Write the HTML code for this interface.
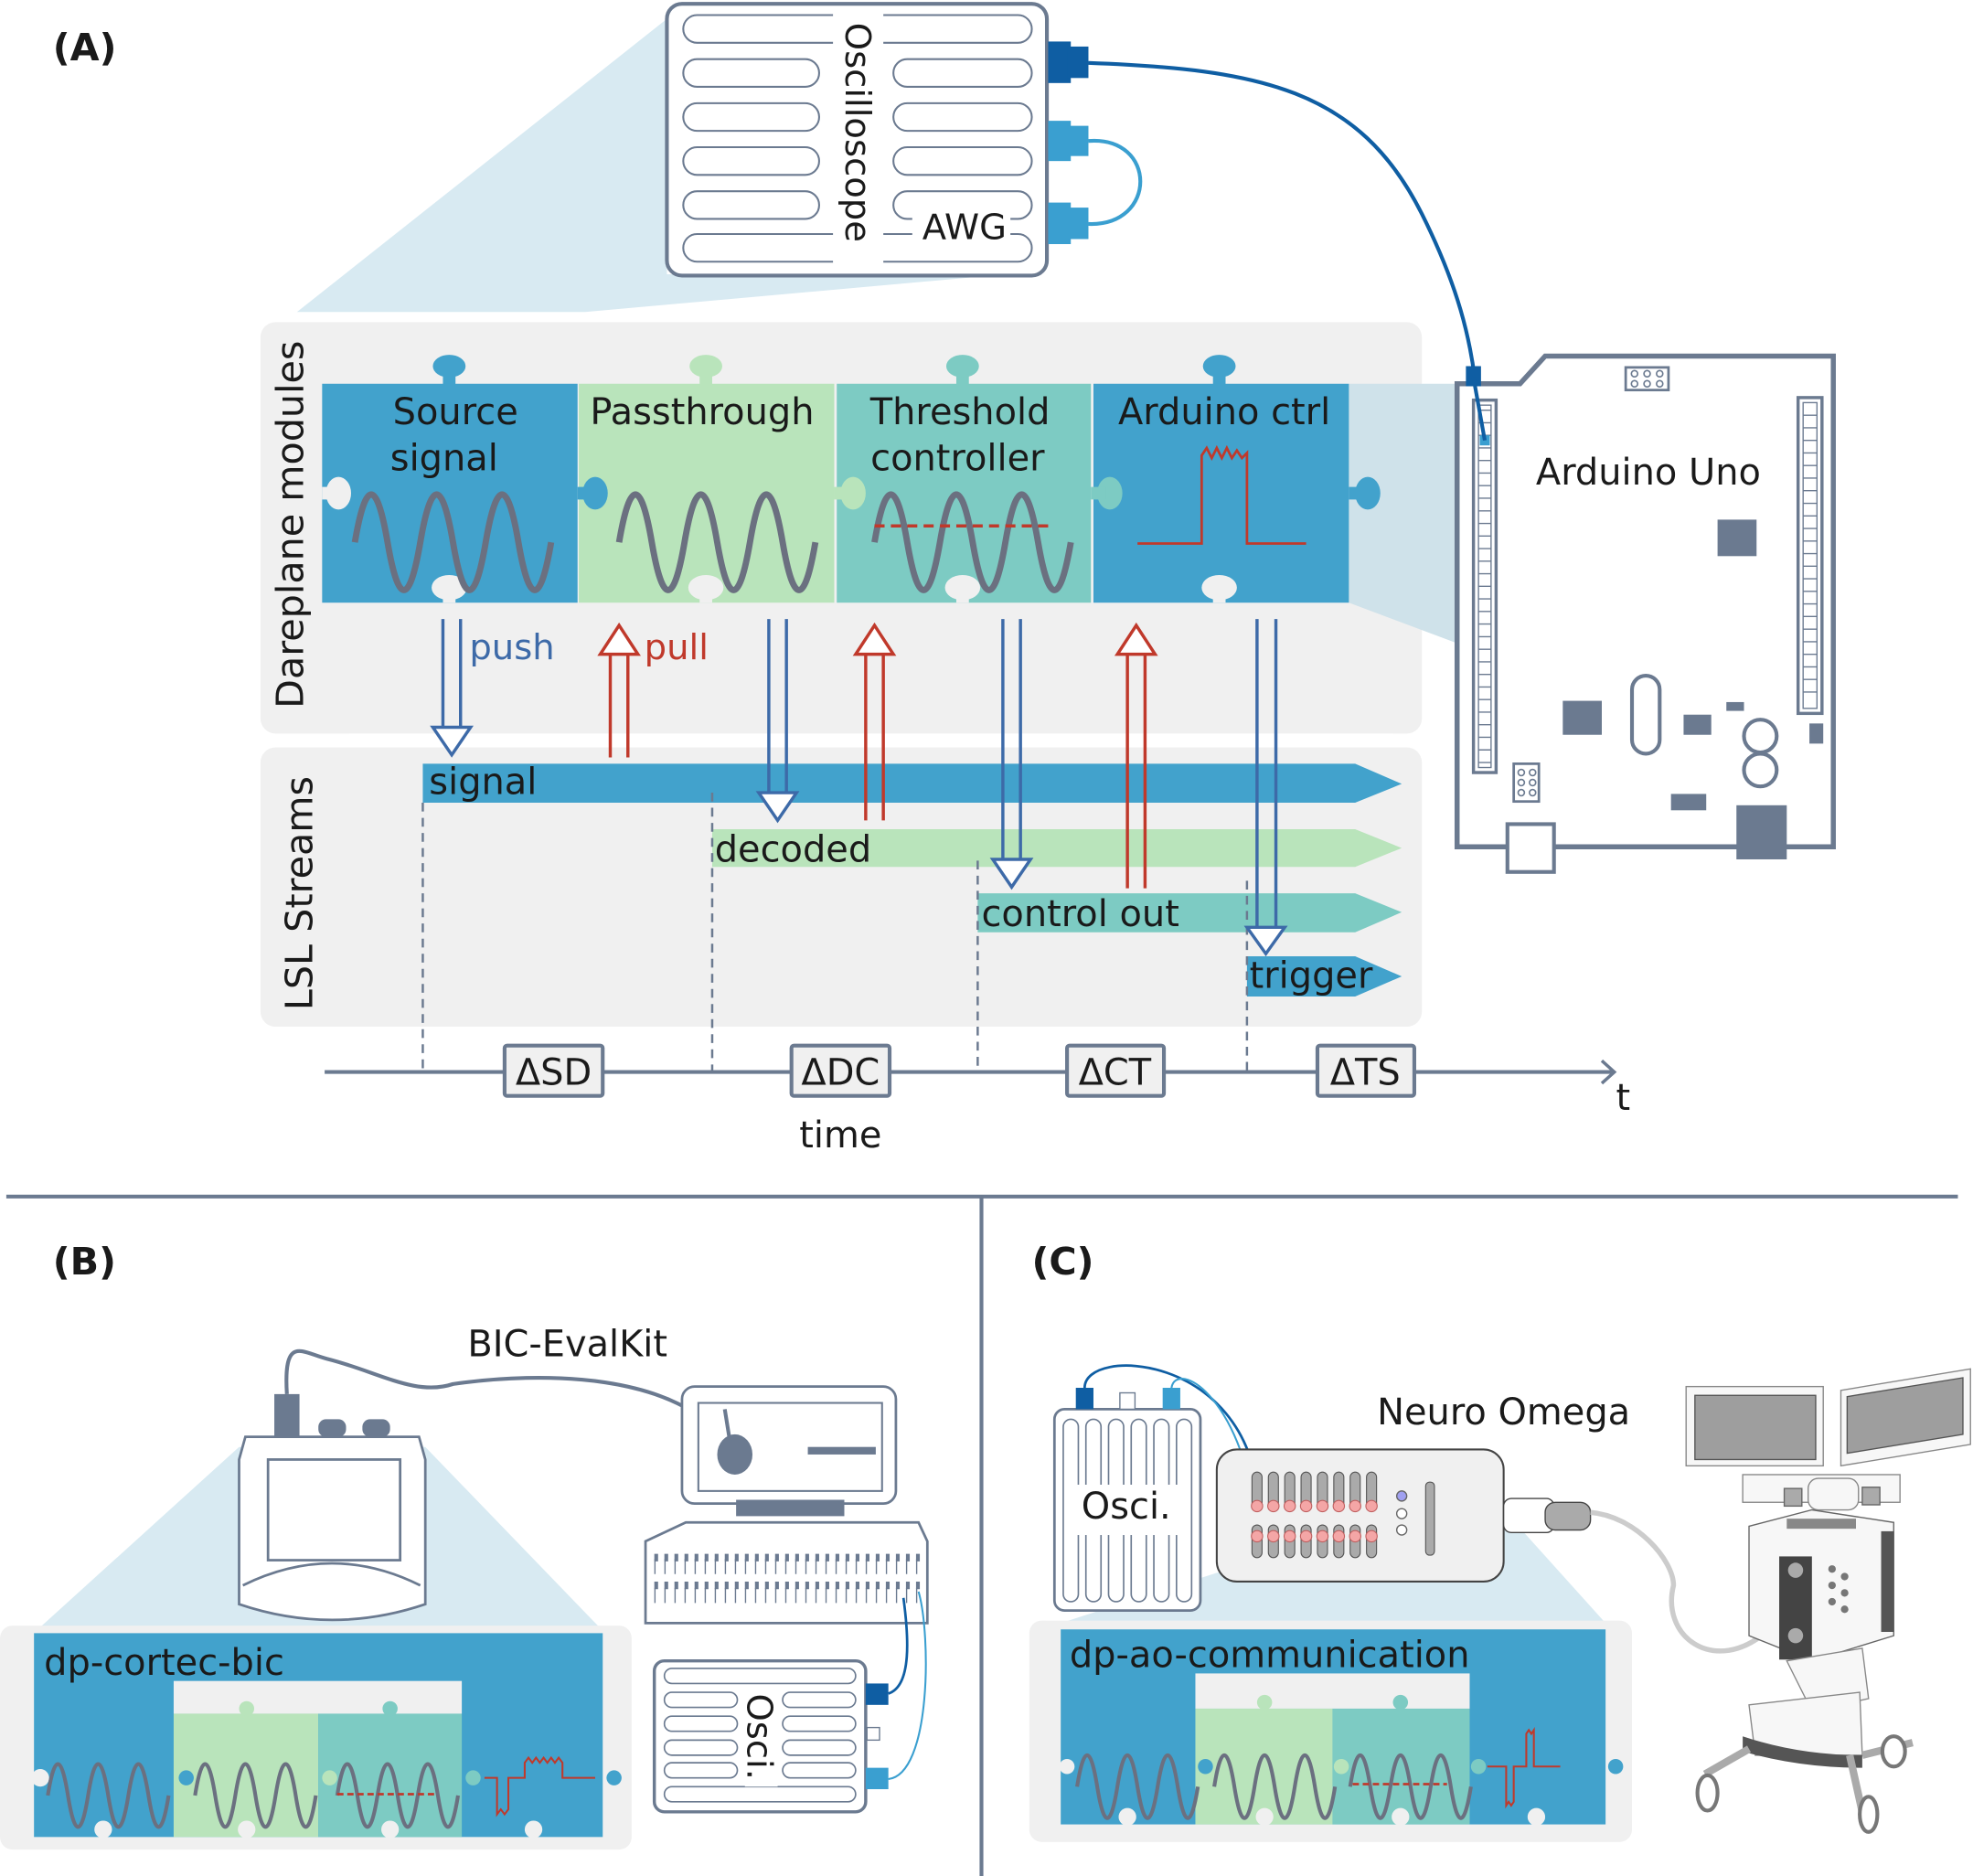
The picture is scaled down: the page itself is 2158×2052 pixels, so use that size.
<!DOCTYPE html>
<html><head><meta charset="utf-8"><style>
html,body{margin:0;padding:0;background:#fff;}
svg{display:block;}
text{font-family:"DejaVu Sans","Liberation Sans",sans-serif;fill:#1a1a1a;}
</style></head><body>
<svg width="2158" height="2052" viewBox="0 0 1568 1491" xmlns="http://www.w3.org/2000/svg">
<defs>
<path id="sine" d="M0,0 q13,-76 26,0 t26,0 t26,0 t26,0 t26,0 t26,0" fill="none" stroke="#6b7080" stroke-width="5"/>
<path id="sines" d="M0,0 q8,-50 16,0 t16,0 t16,0 t16,0 t16,0 t16,0" fill="none" stroke="#6b7080" stroke-width="3"/>
</defs>
<rect width="1568" height="1491" fill="#fff"/>

<!-- ===== Panel A ===== -->
<text x="42" y="48" font-size="30" font-weight="bold">(A)</text>
<polygon points="530,15 236,248 465,248 800,218 530,218" fill="#d8eaf2"/>
<rect x="530" y="3" width="302" height="216" rx="12" fill="#fff" stroke="#6b7a90" stroke-width="3"/>
<g fill="none" stroke="#6b7a90" stroke-width="1.5">
<rect x="543" y="12" width="277" height="22" rx="11"/>
<rect x="543" y="47" width="108" height="22" rx="11"/><rect x="543" y="82" width="108" height="22" rx="11"/>
<rect x="543" y="117" width="108" height="22" rx="11"/><rect x="543" y="152" width="108" height="22" rx="11"/>
<rect x="710" y="47" width="110" height="22" rx="11"/><rect x="710" y="82" width="110" height="22" rx="11"/>
<rect x="710" y="117" width="110" height="22" rx="11"/><rect x="710" y="152" width="110" height="22" rx="11"/>
<rect x="543" y="186" width="277" height="22" rx="11"/>
</g>
<rect x="662" y="10" width="40" height="200" fill="#fff"/>
<rect x="725" y="164" width="78" height="30" fill="#fff"/>
<text transform="translate(672,18) rotate(90)" font-size="28">Oscilloscope</text>
<text x="733" y="190" font-size="28">AWG</text>
<rect x="833" y="33" width="18" height="33" fill="#0f5ea3"/><rect x="848" y="37" width="17" height="25" fill="#0f5ea3"/>
<rect x="833" y="96" width="18" height="32" fill="#3a9fd0"/><rect x="848" y="100" width="17" height="24" fill="#3a9fd0"/>
<rect x="833" y="161" width="18" height="33" fill="#3a9fd0"/><rect x="848" y="165" width="17" height="25" fill="#3a9fd0"/>
<path d="M865,112 C920,108 920,180 865,178" fill="none" stroke="#3a9fd0" stroke-width="3"/>
<path d="M865,50 C1000,55 1080,70 1130,170 C1160,230 1168,270 1172,300 L1180,350" fill="none" stroke="#0f5ea3" stroke-width="3"/>

<!-- Dareplane panel -->
<rect x="207" y="256" width="923" height="327" rx="12" fill="#f0f0f0"/>
<text transform="translate(241,563) rotate(-90)" font-size="30">Dareplane modules</text>
<polygon points="1072,305 1160,305 1160,512 1072,479" fill="#cfe2ea"/>
<rect x="256" y="305" width="203" height="174" fill="#42a2cc"/>
<rect x="460" y="305" width="203" height="174" fill="#b9e4bb"/>
<rect x="665" y="305" width="202" height="174" fill="#7dcbc3"/>
<rect x="869" y="305" width="203" height="174" fill="#42a2cc"/>
<g><rect x="352" y="292" width="10" height="14" fill="#42a2cc"/><ellipse cx="357" cy="291" rx="13" ry="9" fill="#42a2cc"/>
<rect x="556" y="292" width="10" height="14" fill="#b9e4bb"/><ellipse cx="561" cy="291" rx="13" ry="9" fill="#b9e4bb"/>
<rect x="760" y="292" width="10" height="14" fill="#7dcbc3"/><ellipse cx="765" cy="291" rx="13" ry="9" fill="#7dcbc3"/>
<rect x="964" y="292" width="10" height="14" fill="#42a2cc"/><ellipse cx="969" cy="291" rx="13" ry="9" fill="#42a2cc"/></g>
<g fill="#f0f0f0"><ellipse cx="357" cy="467" rx="14" ry="10"/><rect x="352" y="467" width="10" height="12"/>
<ellipse cx="561" cy="467" rx="14" ry="10"/><rect x="556" y="467" width="10" height="12"/>
<ellipse cx="765" cy="467" rx="14" ry="10"/><rect x="760" y="467" width="10" height="12"/>
<ellipse cx="969" cy="467" rx="14" ry="10"/><rect x="964" y="467" width="10" height="12"/></g>
<ellipse cx="269" cy="392" rx="10" ry="13" fill="#f0f0f0"/><rect x="256" y="387" width="12" height="10" fill="#f0f0f0"/>
<ellipse cx="473" cy="392" rx="10" ry="13" fill="#42a2cc"/><rect x="459" y="387" width="12" height="10" fill="#42a2cc"/>
<ellipse cx="678" cy="392" rx="10" ry="13" fill="#b9e4bb"/><rect x="663" y="387" width="12" height="10" fill="#b9e4bb"/>
<ellipse cx="882" cy="392" rx="10" ry="13" fill="#7dcbc3"/><rect x="867" y="387" width="12" height="10" fill="#7dcbc3"/>
<ellipse cx="1087" cy="392" rx="10" ry="13" fill="#42a2cc"/><rect x="1072" y="387" width="12" height="10" fill="#42a2cc"/>
<text x="362" y="337" font-size="29" text-anchor="middle">Source</text>
<text x="353" y="374" font-size="29" text-anchor="middle">signal</text>
<text x="558" y="337" font-size="29" text-anchor="middle">Passthrough</text>
<text x="763" y="337" font-size="29" text-anchor="middle">Threshold</text>
<text x="761" y="374" font-size="29" text-anchor="middle">controller</text>
<text x="973" y="337" font-size="29" text-anchor="middle">Arduino ctrl</text>
<use href="#sine" x="282" y="431"/>
<use href="#sine" x="492" y="431"/>
<use href="#sine" x="695" y="431"/>
<line x1="695" y1="418" x2="835" y2="418" stroke="#c0392b" stroke-width="2.5" stroke-dasharray="8,5"/>
<path d="M904,432 H955 V362 l4,-6 4,8 4,-8 4,8 4,-8 4,8 4,-6 4,6 4,-4 V432 H1038" fill="none" stroke="#c0392b" stroke-width="2"/>

<!-- LSL panel -->
<rect x="207" y="594" width="923" height="222" rx="12" fill="#f0f0f0"/>
<text transform="translate(248,803) rotate(-90)" font-size="30">LSL Streams</text>
<polygon points="336,607 1077,607 1114,623 1077,638 336,638" fill="#42a2cc"/>
<polygon points="566,659 1077,659 1114,674 1077,689 566,689" fill="#b9e4bb"/>
<polygon points="777,710 1077,710 1114,725 1077,741 777,741" fill="#7dcbc3"/>
<polygon points="991,760 1077,760 1114,776 1077,792 991,792" fill="#42a2cc"/>
<text x="341" y="631" font-size="29">signal</text>
<text x="568" y="685" font-size="29">decoded</text>
<text x="780" y="736" font-size="29">control out</text>
<text x="993" y="785" font-size="29">trigger</text>
<g stroke="#6b7a90" stroke-width="1.8" stroke-dasharray="7,5">
<line x1="336" y1="638" x2="336" y2="852"/><line x1="566" y1="630" x2="566" y2="852"/>
<line x1="777" y1="684" x2="777" y2="852"/><line x1="991" y1="700" x2="991" y2="852"/></g>

<!-- arrows (on top) -->
<g fill="none" stroke-width="2.5">
<g stroke="#3d6aa8"><path d="M352,492 V578 M366,492 V578"/><path d="M344,578 H374 L359,600 Z" fill="#fff"/></g>
<g stroke="#c0392b"><path d="M485,602 V520 M499,602 V520"/><path d="M477,520 H507 L492,497 Z" fill="#fff"/></g>
<g stroke="#3d6aa8"><path d="M611,492 V630 M625,492 V630"/><path d="M603,630 H633 L618,652 Z" fill="#fff"/></g>
<g stroke="#c0392b"><path d="M688,652 V520 M702,652 V520"/><path d="M680,520 H710 L695,497 Z" fill="#fff"/></g>
<g stroke="#3d6aa8"><path d="M797,492 V683 M811,492 V683"/><path d="M789,683 H819 L804,705 Z" fill="#fff"/></g>
<g stroke="#c0392b"><path d="M896,706 V520 M910,706 V520"/><path d="M888,520 H918 L903,497 Z" fill="#fff"/></g>
<g stroke="#3d6aa8"><path d="M999,492 V737 M1014,492 V737"/><path d="M991,737 H1021 L1006,758 Z" fill="#fff"/></g>
</g>
<text x="373" y="524" font-size="28" style="fill:#3d6aa8">push</text>
<text x="512" y="524" font-size="28" style="fill:#c0392b">pull</text>

<line x1="258" y1="852" x2="1282" y2="852" stroke="#6b7a90" stroke-width="3"/>
<path d="M1273,843 L1283,852 L1273,861" fill="none" stroke="#6b7a90" stroke-width="2.5"/>
<g fill="#f0f0f0" stroke="#6b7a90" stroke-width="3">
<rect x="401" y="831" width="78" height="40" rx="2"/><rect x="629" y="831" width="78" height="40" rx="2"/>
<rect x="848" y="831" width="77" height="40" rx="2"/><rect x="1047" y="831" width="77" height="40" rx="2"/></g>
<g font-size="29" text-anchor="middle">
<text x="440" y="862">ΔSD</text><text x="668" y="862">ΔDC</text><text x="886" y="862">ΔCT</text><text x="1085" y="862">ΔTS</text></g>
<text x="1290" y="882" font-size="29" text-anchor="middle">t</text>
<text x="668" y="912" font-size="29" text-anchor="middle">time</text>

<!-- Arduino Uno -->
<polygon points="1158,305 1208,305 1228,283 1457,283 1457,673 1158,673" fill="#fff" stroke="#6b7a90" stroke-width="4"/>
<rect x="1171" y="318" width="18" height="296" fill="#fff" stroke="#6b7a90" stroke-width="2.5"/>
<rect x="1429" y="316" width="19" height="251" fill="#fff" stroke="#6b7a90" stroke-width="2.5"/>
<g fill="none" stroke="#6b7a90" stroke-width="1">
<path d="M1175,326 h10 M1175,336 h10 M1175,346 h10 M1175,356 h10 M1175,366 h10 M1175,376 h10 M1175,386 h10 M1175,396 h10 M1175,406 h10 M1175,416 h10 M1175,426 h10 M1175,436 h10 M1175,446 h10 M1175,456 h10 M1175,466 h10 M1175,476 h10 M1175,486 h10 M1175,496 h10 M1175,506 h10 M1175,516 h10 M1175,526 h10 M1175,536 h10 M1175,546 h10 M1175,556 h10 M1175,566 h10 M1175,576 h10 M1175,586 h10 M1175,596 h10 M1175,606 h10"/>
<rect x="1175" y="322" width="10" height="288"/>
<rect x="1433" y="320" width="11" height="243"/>
<path d="M1433,330 h11 M1433,340 h11 M1433,350 h11 M1433,360 h11 M1433,370 h11 M1433,380 h11 M1433,390 h11 M1433,400 h11 M1433,410 h11 M1433,420 h11 M1433,430 h11 M1433,440 h11 M1433,450 h11 M1433,460 h11 M1433,470 h11 M1433,480 h11 M1433,490 h11 M1433,500 h11 M1433,510 h11 M1433,520 h11 M1433,530 h11 M1433,540 h11 M1433,550 h11"/>
</g>
<rect x="1176" y="346" width="8" height="8" fill="#3a9fd0"/>
<rect x="1165" y="291" width="12" height="16" fill="#0f5ea3"/>
<path d="M1171,300 L1180,350" stroke="#0f5ea3" stroke-width="3"/>
<rect x="1292" y="292" width="34" height="18" fill="#fff" stroke="#6b7a90" stroke-width="2"/>
<g fill="none" stroke="#6b7a90" stroke-width="1.2"><circle cx="1299" cy="297" r="2.5"/><circle cx="1309" cy="297" r="2.5"/><circle cx="1319" cy="297" r="2.5"/><circle cx="1299" cy="305" r="2.5"/><circle cx="1309" cy="305" r="2.5"/><circle cx="1319" cy="305" r="2.5"/>
<circle cx="1209" cy="614" r="2.5"/><circle cx="1218" cy="614" r="2.5"/><circle cx="1209" cy="622" r="2.5"/><circle cx="1218" cy="622" r="2.5"/><circle cx="1209" cy="630" r="2.5"/><circle cx="1218" cy="630" r="2.5"/></g>
<rect x="1203" y="607" width="20" height="30" fill="none" stroke="#6b7a90" stroke-width="2"/>
<text x="1310" y="385" font-size="29" text-anchor="middle">Arduino Uno</text>
<g fill="#6b7a90">
<rect x="1365" y="413" width="31" height="29"/><rect x="1242" y="557" width="31" height="27"/>
<rect x="1338" y="568" width="22" height="16"/><rect x="1372" y="558" width="14" height="7"/>
<rect x="1438" y="575" width="11" height="16"/><rect x="1328" y="631" width="28" height="13"/>
<rect x="1380" y="640" width="40" height="43"/></g>
<rect x="1198" y="655" width="37" height="38" fill="#fff" stroke="#6b7a90" stroke-width="3"/>
<rect x="1297" y="537" width="22" height="62" rx="11" fill="none" stroke="#6b7a90" stroke-width="3"/>
<circle cx="1399" cy="585" r="13" fill="none" stroke="#6b7a90" stroke-width="3"/>
<circle cx="1399" cy="612" r="13" fill="none" stroke="#6b7a90" stroke-width="3"/>

<!-- separators -->
<line x1="5" y1="951" x2="1556" y2="951" stroke="#6b7a90" stroke-width="3"/>
<line x1="780" y1="951" x2="780" y2="1491" stroke="#6b7a90" stroke-width="3"/>

<!-- ===== Panel B ===== -->
<text x="42" y="1013" font-size="30" font-weight="bold">(B)</text>
<polygon points="190,1150 30,1295 478,1295 338,1150" fill="#d8eaf2"/>
<rect x="0" y="1292" width="502" height="178" rx="10" fill="#f0f0f0"/>
<rect x="27" y="1298" width="452" height="162" fill="#42a2cc"/>
<rect x="138" y="1336" width="229" height="26" fill="#f0f0f0"/>
<rect x="138" y="1362" width="115" height="98" fill="#b9e4bb"/>
<rect x="253" y="1362" width="114" height="98" fill="#7dcbc3"/>
<text x="35" y="1331" font-size="29">dp-cortec-bic</text>
<circle cx="196" cy="1358" r="6" fill="#b9e4bb"/><circle cx="310" cy="1358" r="6" fill="#7dcbc3"/>
<g fill="#f0f0f0"><circle cx="82" cy="1454" r="7"/><circle cx="196" cy="1454" r="7"/><circle cx="310" cy="1454" r="7"/><circle cx="424" cy="1454" r="7"/>
<circle cx="32" cy="1413" r="7"/></g>
<circle cx="148" cy="1413" r="6" fill="#42a2cc"/><circle cx="262" cy="1413" r="6" fill="#b9e4bb"/><circle cx="376" cy="1413" r="6" fill="#7dcbc3"/><circle cx="488" cy="1413" r="6" fill="#42a2cc"/>
<use href="#sines" x="38" y="1427"/><use href="#sines" x="155" y="1427"/><use href="#sines" x="268" y="1427"/>
<line x1="268" y1="1426" x2="348" y2="1426" stroke="#c0392b" stroke-width="2" stroke-dasharray="5,3"/>
<path d="M385,1413 H395 V1442 l3,-4 3,4 3,-4 V1413 H417 V1401 l3,-4 3,4 3,-4 3,4 3,-4 3,4 3,-4 3,4 3,-4 3,4 V1413 H473" fill="none" stroke="#c0392b" stroke-width="1.5"/>
<path d="M195,1142 H333 L338,1160 V1275 Q264,1300 190,1275 V1160 Z" fill="#fff" stroke="#6b7a90" stroke-width="2"/>
<rect x="213" y="1160" width="105" height="80" fill="#fff" stroke="#6b7a90" stroke-width="2"/>
<path d="M193,1260 Q264,1225 334,1260" fill="none" stroke="#6b7a90" stroke-width="2"/>
<rect x="218" y="1108" width="20" height="34" fill="#6b7a90"/>
<rect x="253" y="1128" width="22" height="14" rx="6" fill="#6b7a90"/><rect x="288" y="1128" width="22" height="14" rx="6" fill="#6b7a90"/>
<path d="M228,1108 C225,1060 240,1075 260,1080 C300,1090 330,1110 360,1100 C430,1090 540,1090 580,1150" fill="none" stroke="#6b7a90" stroke-width="3"/>
<text x="451" y="1078" font-size="29" text-anchor="middle">BIC-EvalKit</text>
<rect x="542" y="1102" width="170" height="93" rx="10" fill="#fff" stroke="#6b7a90" stroke-width="2"/>
<rect x="555" y="1115" width="146" height="70" fill="#fff" stroke="#6b7a90" stroke-width="1.5"/>
<ellipse cx="584" cy="1156" rx="14" ry="16" fill="#6b7a90"/>
<path d="M576,1120 L580,1145" stroke="#6b7a90" stroke-width="3"/>
<rect x="642" y="1150" width="54" height="6" fill="#6b7a90"/>
<rect x="585" y="1192" width="86" height="13" fill="#6b7a90"/>
<path d="M545,1210 H730 L737,1225 V1290 H513 V1225 Z" fill="#fff" stroke="#6b7a90" stroke-width="2"/>
<g stroke="#6b7a90" stroke-width="1.5">
<path d="M520,1238 h212 M520,1260 h212" stroke-dasharray="3,5" stroke-width="6"/>
<path d="M520,1245 h212 M520,1268 h212" stroke-dasharray="1,7" stroke-width="12"/></g>
<rect x="520" y="1320" width="168" height="120" rx="8" fill="#fff" stroke="#6b7a90" stroke-width="2.5"/>
<g fill="none" stroke="#6b7a90" stroke-width="1.2">
<rect x="528" y="1326" width="152" height="12" rx="6"/><rect x="528" y="1420" width="152" height="12" rx="6"/>
<rect x="528" y="1345" width="58" height="12" rx="6"/><rect x="528" y="1364" width="58" height="12" rx="6"/><rect x="528" y="1383" width="58" height="12" rx="6"/><rect x="528" y="1401" width="58" height="12" rx="6"/>
<rect x="622" y="1345" width="58" height="12" rx="6"/><rect x="622" y="1364" width="58" height="12" rx="6"/><rect x="622" y="1383" width="58" height="12" rx="6"/><rect x="622" y="1401" width="58" height="12" rx="6"/></g>
<rect x="592" y="1340" width="26" height="80" fill="#fff"/>
<text transform="translate(594,1346) rotate(90)" font-size="28">Osci.</text>
<rect x="688" y="1338" width="18" height="17" fill="#0f5ea3"/>
<rect x="688" y="1405" width="18" height="17" fill="#3a9fd0"/>
<rect x="689" y="1373" width="10" height="10" fill="#fff" stroke="#6b7a90"/>
<path d="M706,1346 C725,1340 722,1300 718,1270" fill="none" stroke="#0f5ea3" stroke-width="2"/>
<path d="M706,1414 C740,1410 740,1300 730,1265" fill="none" stroke="#3a9fd0" stroke-width="1.5"/>

<!-- ===== Panel C ===== -->
<text x="820" y="1013" font-size="30" font-weight="bold">(C)</text>
<polygon points="967,1250 843,1290 1276,1290 1195,1200" fill="#d8eaf2"/>
<rect x="818" y="1288" width="479" height="176" rx="10" fill="#f0f0f0"/>
<rect x="843" y="1295" width="433" height="155" fill="#42a2cc"/>
<rect x="950" y="1330" width="218" height="28" fill="#f0f0f0"/>
<rect x="950" y="1358" width="109" height="92" fill="#b9e4bb"/>
<rect x="1059" y="1358" width="109" height="92" fill="#7dcbc3"/>
<text x="850" y="1325" font-size="29">dp-ao-communication</text>
<circle cx="1005" cy="1353" r="6" fill="#b9e4bb"/><circle cx="1113" cy="1353" r="6" fill="#7dcbc3"/>
<g fill="#f0f0f0"><circle cx="896" cy="1444" r="7"/><circle cx="1005" cy="1444" r="7"/><circle cx="1113" cy="1444" r="7"/><circle cx="1221" cy="1444" r="7"/><circle cx="848" cy="1404" r="6"/></g>
<circle cx="958" cy="1404" r="6" fill="#42a2cc"/><circle cx="1066" cy="1404" r="6" fill="#b9e4bb"/><circle cx="1175" cy="1404" r="6" fill="#7dcbc3"/><circle cx="1284" cy="1404" r="6" fill="#42a2cc"/>
<use href="#sines" x="856" y="1420"/><use href="#sines" x="965" y="1420"/><use href="#sines" x="1073" y="1420"/>
<line x1="1075" y1="1418" x2="1150" y2="1418" stroke="#c0392b" stroke-width="2" stroke-dasharray="5,3"/>
<path d="M1182,1404 H1197 V1435 l2,-3 2,3 2,-3 V1404 H1213 V1378 l2,-3 2,3 2,-3 V1404 H1240" fill="none" stroke="#c0392b" stroke-width="1.5"/>
<rect x="838" y="1120" width="116" height="160" rx="8" fill="#fff" stroke="#6b7a90" stroke-width="2"/>
<g fill="none" stroke="#6b7a90" stroke-width="1.2">
<rect x="845" y="1128" width="12" height="145" rx="6"/><rect x="863" y="1128" width="12" height="145" rx="6"/><rect x="881" y="1128" width="12" height="145" rx="6"/><rect x="899" y="1128" width="12" height="145" rx="6"/><rect x="917" y="1128" width="12" height="145" rx="6"/><rect x="935" y="1128" width="12" height="145" rx="6"/></g>
<rect x="850" y="1180" width="95" height="40" fill="#fff"/>
<text x="895" y="1207" font-size="29" text-anchor="middle">Osci.</text>
<rect x="855" y="1103" width="14" height="17" fill="#0f5ea3"/>
<rect x="924" y="1103" width="14" height="17" fill="#3a9fd0"/>
<rect x="890" y="1107" width="12" height="13" fill="#fff" stroke="#6b7a90"/>
<path d="M862,1103 C862,1070 990,1075 1000,1190" fill="none" stroke="#0f5ea3" stroke-width="2"/>
<path d="M931,1103 C935,1080 990,1110 1000,1220" fill="none" stroke="#3a9fd0" stroke-width="1.5"/>
<rect x="967" y="1152" width="228" height="105" rx="16" fill="#f0f0f0" stroke="#444" stroke-width="1.5"/>
<g fill="#aaa" stroke="#555" stroke-width="0.8">
<rect x="995" y="1170" width="8" height="30" rx="4"/><rect x="1008" y="1170" width="8" height="30" rx="4"/><rect x="1021" y="1170" width="8" height="30" rx="4"/><rect x="1034" y="1170" width="8" height="30" rx="4"/><rect x="1047" y="1170" width="8" height="30" rx="4"/><rect x="1060" y="1170" width="8" height="30" rx="4"/><rect x="1073" y="1170" width="8" height="30" rx="4"/><rect x="1086" y="1170" width="8" height="30" rx="4"/>
<rect x="995" y="1212" width="8" height="26" rx="4"/><rect x="1008" y="1212" width="8" height="26" rx="4"/><rect x="1021" y="1212" width="8" height="26" rx="4"/><rect x="1034" y="1212" width="8" height="26" rx="4"/><rect x="1047" y="1212" width="8" height="26" rx="4"/><rect x="1060" y="1212" width="8" height="26" rx="4"/><rect x="1073" y="1212" width="8" height="26" rx="4"/><rect x="1086" y="1212" width="8" height="26" rx="4"/>
<rect x="1133" y="1178" width="7" height="58" rx="3"/></g>
<g fill="#f4a6a6" stroke="#c06060" stroke-width="0.8">
<circle cx="999" cy="1197" r="4.5"/><circle cx="1012" cy="1197" r="4.5"/><circle cx="1025" cy="1197" r="4.5"/><circle cx="1038" cy="1197" r="4.5"/><circle cx="1051" cy="1197" r="4.5"/><circle cx="1064" cy="1197" r="4.5"/><circle cx="1077" cy="1197" r="4.5"/><circle cx="1090" cy="1197" r="4.5"/>
<circle cx="999" cy="1221" r="4.5"/><circle cx="1012" cy="1221" r="4.5"/><circle cx="1025" cy="1221" r="4.5"/><circle cx="1038" cy="1221" r="4.5"/><circle cx="1051" cy="1221" r="4.5"/><circle cx="1064" cy="1221" r="4.5"/><circle cx="1077" cy="1221" r="4.5"/><circle cx="1090" cy="1221" r="4.5"/></g>
<circle cx="1114" cy="1189" r="4" fill="#a0a0f0" stroke="#666"/><circle cx="1114" cy="1203" r="4" fill="#fff" stroke="#666"/><circle cx="1114" cy="1216" r="4" fill="#fff" stroke="#666"/>
<text x="1195" y="1132" font-size="29" text-anchor="middle">Neuro Omega</text>
<rect x="1195" y="1191" width="40" height="27" rx="6" fill="#fff" stroke="#444"/>
<rect x="1228" y="1194" width="36" height="22" rx="8" fill="#aaa" stroke="#444"/>
<path d="M1264,1202 C1300,1205 1330,1240 1330,1260 C1320,1300 1360,1330 1400,1300 L1420,1290" fill="none" stroke="#ccc" stroke-width="4"/>
<rect x="1340" y="1102" width="109" height="63" fill="#f7f7f7" stroke="#888"/>
<rect x="1347" y="1109" width="96" height="51" fill="#9e9e9e" stroke="#555"/>
<polygon points="1463,1105 1566,1088 1566,1148 1463,1165" fill="#f7f7f7" stroke="#888"/>
<polygon points="1468,1110 1560,1095 1560,1140 1468,1155" fill="#9e9e9e" stroke="#555"/>
<rect x="1385" y="1172" width="125" height="22" fill="#f7f7f7" stroke="#888"/>
<rect x="1418" y="1183" width="14" height="14" fill="#aaa" stroke="#666"/><rect x="1480" y="1182" width="14" height="14" fill="#aaa" stroke="#666"/>
<rect x="1437" y="1175" width="40" height="25" rx="8" fill="#f7f7f7" stroke="#888"/>
<polygon points="1390,1213 1440,1200 1505,1210 1505,1300 1440,1320 1390,1300" fill="#f7f7f7" stroke="#666"/>
<rect x="1414" y="1237" width="26" height="82" fill="#444"/>
<rect x="1495" y="1217" width="10" height="80" fill="#555"/>
<circle cx="1427" cy="1248" r="6" fill="#aaa"/><circle cx="1427" cy="1300" r="6" fill="#aaa"/>
<g fill="#777"><circle cx="1456" cy="1247" r="3"/><circle cx="1456" cy="1260" r="3"/><circle cx="1456" cy="1273" r="3"/><circle cx="1466" cy="1253" r="3"/><circle cx="1466" cy="1266" r="3"/><circle cx="1466" cy="1279" r="3"/></g>
<rect x="1420" y="1207" width="55" height="8" fill="#888"/>
<polygon points="1420,1320 1480,1310 1485,1350 1440,1360" fill="#f7f7f7" stroke="#888"/>
<path d="M1390,1355 L1478,1345 L1480,1395 L1395,1395 Z" fill="#f7f7f7" stroke="#888"/>
<path d="M1385,1380 Q1430,1395 1480,1395 L1480,1405 Q1430,1405 1385,1392 Z" fill="#555"/>
<path d="M1390,1390 L1355,1410 M1480,1395 L1520,1385 M1470,1395 L1480,1440" stroke="#aaa" stroke-width="6"/>
<ellipse cx="1357" cy="1425" rx="8" ry="14" fill="#fff" stroke="#777" stroke-width="3"/>
<ellipse cx="1505" cy="1392" rx="9" ry="12" fill="#fff" stroke="#777" stroke-width="3"/>
<ellipse cx="1485" cy="1442" rx="7" ry="14" fill="#fff" stroke="#777" stroke-width="3"/>
</svg>
</body></html>
